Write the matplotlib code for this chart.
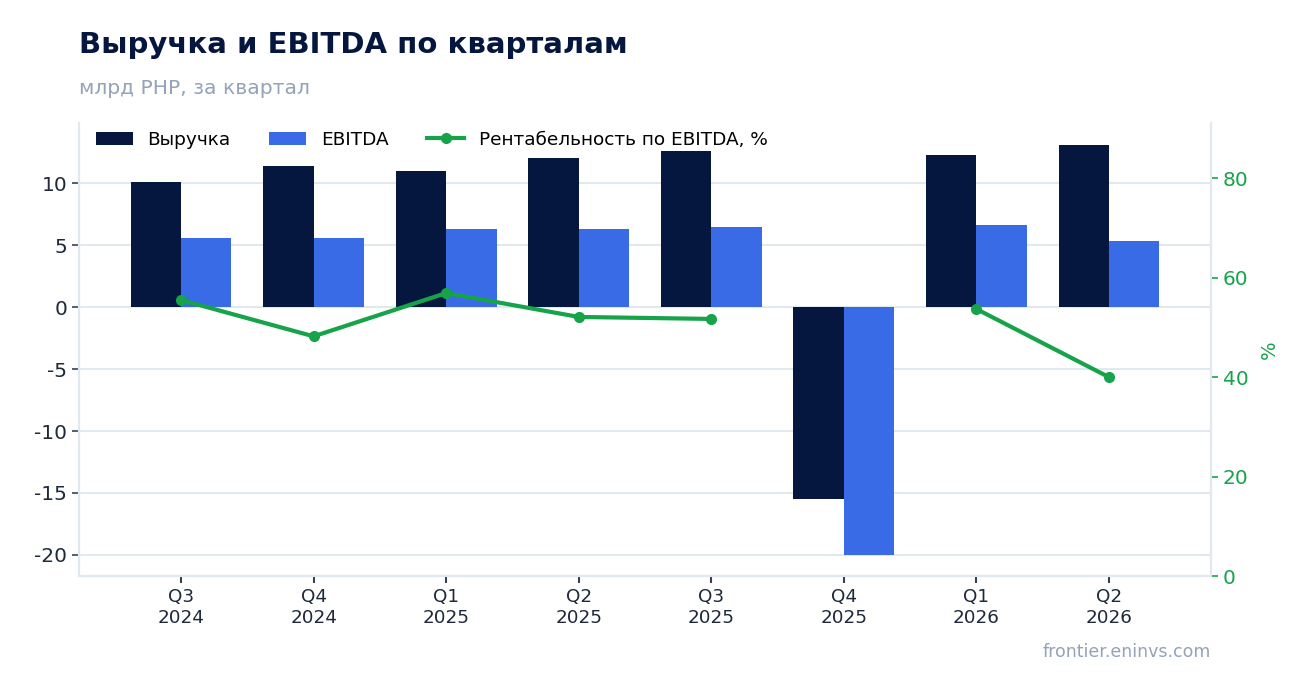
import numpy as np
import matplotlib
matplotlib.use('Agg')
import matplotlib.pyplot as plt

quarters = ['Q3\n2024', 'Q4\n2024', 'Q1\n2025', 'Q2\n2025', 'Q3\n2025', 'Q4\n2025', 'Q1\n2026', 'Q2\n2026']
revenue = [10.1, 11.4, 11.0, 12.0, 12.6, -15.5, 12.3, 13.1]
ebitda = [5.6, 5.6, 6.3, 6.3, 6.5, -20.0, 6.6, 5.3]
margin = [55.5, 48.2, 56.9, 52.1, 51.7, np.nan, 53.7, 40.0]

navy = '#05163f'
blue = '#3a6be6'
green = '#16a34a'
grid_c = '#e2e8f0'
muted = '#94a3b8'

plt.rcParams['font.family'] = ['DejaVu Sans']
plt.rcParams['axes.unicode_minus'] = False

fig = plt.figure(figsize=(13.1, 6.93), dpi=100)
ax = fig.add_axes([0.0603, 0.1688, 0.8641, 0.6537])
ax2 = ax.twinx()

x = np.arange(len(quarters))
w = 0.38
ax.bar(x - w / 2, revenue, w, color=navy, label='Выручка', zorder=3)
ax.bar(x + w / 2, ebitda, w, color=blue, label='EBITDA', zorder=3)
ax2.plot(x, margin, color=green, lw=3, marker='o', ms=7,
         label='Рентабельность по EBITDA, %', zorder=4)

ax.set_xlim(-0.77, 7.77)
ax.set_ylim(-21.7, 14.85)
ax2.set_ylim(0, 91.1)
ax.set_yticks([-20, -15, -10, -5, 0, 5, 10])
ax2.set_yticks([0, 20, 40, 60, 80])
ax.set_xticks(x)
ax.set_xticklabels(quarters, fontsize=13.2, color='#1e293b')
ax.tick_params(axis='y', labelsize=14.5, length=5, width=1.2,
               colors='#334155', labelcolor='#1e293b')
ax.tick_params(axis='x', length=5, width=1.5, color='#334155')
ax2.tick_params(axis='y', labelsize=14.5, colors=green, length=5, width=1.2)
ax2.set_ylabel('%', color=green, fontsize=14, labelpad=8)

ax.grid(axis='y', color=grid_c, lw=1.5, zorder=0)
ax.set_axisbelow(True)
for a in (ax, ax2):
    a.spines['top'].set_visible(False)
    for s in ('left', 'right', 'bottom'):
        a.spines[s].set_color(grid_c)
        a.spines[s].set_linewidth(1.5)

h1, l1 = ax.get_legend_handles_labels()
h2, l2 = ax2.get_legend_handles_labels()
ax2.legend(h1 + h2, l1 + l2, loc='upper left', ncol=3, frameon=False,
           fontsize=13.3, handlelength=2.0, handletextpad=0.8, columnspacing=2.1,
           bbox_to_anchor=(0.0, 1.02))

fig.text(0.0603, 0.935, 'Выручка и EBITDA по кварталам', fontsize=21,
         fontweight='bold', color=navy, va='center')
fig.text(0.0603, 0.873, 'млрд РНР, за квартал', fontsize=14.6,
         color=muted, va='center')
fig.text(0.9244, 0.059, 'frontier.eninvs.com', fontsize=12.5,
         color=muted, ha='right', va='center')

fig.savefig('out.png', dpi=100, facecolor='white')
